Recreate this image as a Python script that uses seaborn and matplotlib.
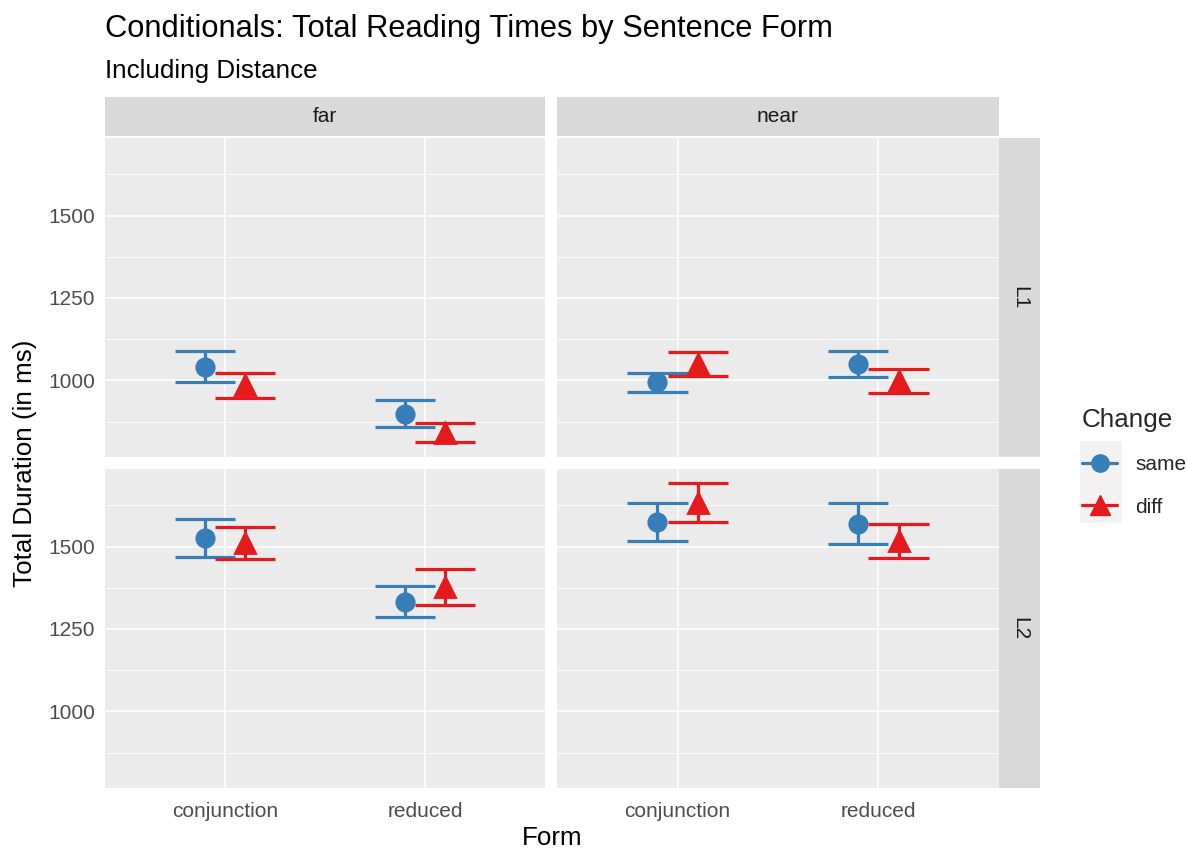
import matplotlib
matplotlib.use("Agg")
import matplotlib.pyplot as plt
from matplotlib.lines import Line2D
from matplotlib.patches import Rectangle
from matplotlib.ticker import MultipleLocator, AutoMinorLocator
import pandas as pd
import seaborn as sns

# categories
forms = ["conjunction", "reduced"]
distances = ["far", "near"]
levels = ["L1", "L2"]
changes = ["same", "diff"]

# cells in order: far/conjunction, far/reduced, near/conjunction, near/reduced
cell_distance = ["far", "far", "near", "near"]
cell_form = ["conjunction", "reduced", "conjunction", "reduced"]

# mean total duration and half-width of the error bar (ms)
l1_same_mean = [1041, 899, 994, 1049]
l1_same_err = [47, 41, 30, 39]
l1_diff_mean = [986, 842, 1049, 998]
l1_diff_err = [38, 30, 36, 37]
l2_same_mean = [1526, 1333, 1574, 1569]
l2_same_err = [57, 48, 58, 62]
l2_diff_mean = [1511, 1377, 1632, 1516]
l2_diff_err = [49, 54, 59, 52]

series = {
    ("L1", "same"): (l1_same_mean, l1_same_err),
    ("L1", "diff"): (l1_diff_mean, l1_diff_err),
    ("L2", "same"): (l2_same_mean, l2_same_err),
    ("L2", "diff"): (l2_diff_mean, l2_diff_err),
}
rows = []
for (lv, ch), (means, errs) in series.items():
    for d, f, m, e in zip(cell_distance, cell_form, means, errs):
        rows.append({"Level": lv, "Change": ch, "Distance": d, "Form": f,
                     "Duration": m, "lower": m - e, "upper": m + e})
df = pd.DataFrame(rows)

palette = {"same": "#377EB8", "diff": "#E41A1C"}

sns.set_theme(style="darkgrid", rc={
    "axes.facecolor": "#EBEBEB",
    "grid.color": "white",
    "axes.edgecolor": "none",
})
plt.rcParams["font.family"] = ["Liberation Sans", "DejaVu Sans"]

W, H = 1187, 851
fig = plt.figure(figsize=(W / 100, H / 100), dpi=100)

def fx(px):
    return px / W

def fy(px):
    return 1 - px / H

col_x = [(105, 545), (557, 999)]
row_y = [(138, 457), (469, 788)]

span = df["upper"].max() - df["lower"].min()
ylim = (df["lower"].min() - 0.05 * span, df["upper"].max() + 0.05 * span)

base = 18.7
small = 15

for r, lv in enumerate(levels):
    for c, dist in enumerate(distances):
        x0, x1 = col_x[c]
        y0, y1 = row_y[r]
        ax = fig.add_axes([fx(x0), fy(y1), fx(x1 - x0), (y1 - y0) / H])
        sub = df[(df["Level"] == lv) & (df["Distance"] == dist)]
        sns.pointplot(data=sub, x="Form", y="Duration", hue="Change",
                      order=forms, hue_order=changes, palette=palette,
                      markers=["o", "^"], linestyles=["none", "none"],
                      dodge=0.2, errorbar=None, legend=False, ax=ax,
                      markersize=12.5)
        # error bars at the dodged positions seaborn used
        for ln, ch in zip(ax.lines[:len(changes)], changes):
            ln.set_zorder(4)
            if ch == "diff":
                ln.set_markersize(15)
            part = sub[sub["Change"] == ch].set_index("Form").loc[forms]
            xs = ln.get_xdata()
            ax.vlines(xs, part["lower"], part["upper"], color=palette[ch],
                      lw=2.3, zorder=3)
            for y in ("lower", "upper"):
                ax.hlines(part[y], xs - 0.15, xs + 0.15, color=palette[ch],
                          lw=2.3, zorder=3)
        ax.set_xlim(-0.6, len(forms) - 0.4)
        ax.set_ylim(*ylim)
        ax.yaxis.set_major_locator(MultipleLocator(250))
        ax.yaxis.set_minor_locator(AutoMinorLocator(2))
        ax.grid(which="major", color="white", lw=1.1)
        ax.grid(which="minor", axis="y", color="white", lw=0.55)
        ax.set_axisbelow(True)
        ax.set_xlabel("")
        ax.set_ylabel("")
        ax.tick_params(axis="both", which="major", length=4, width=1.1,
                       color="#333333", labelcolor="#4D4D4D",
                       labelsize=small, pad=3)
        ax.tick_params(axis="x", which="major", pad=6)
        ax.tick_params(axis="both", which="minor", length=0)
        if c > 0:
            ax.tick_params(axis="y", length=0, labelleft=False)
        if r == 0:
            ax.tick_params(axis="x", length=0, labelbottom=False)
        for s in ax.spines.values():
            s.set_visible(False)

        if r == 0:
            sax = fig.add_axes([fx(x0), fy(136), fx(x1 - x0), 39 / H])
            sax.set_facecolor("#D9D9D9")
            sax.set_xticks([])
            sax.set_yticks([])
            sax.grid(False)
            for s in sax.spines.values():
                s.set_visible(False)
            sax.text(0.5, 0.5, dist, ha="center", va="center",
                     fontsize=small, color="#1A1A1A", transform=sax.transAxes)
        if c == len(distances) - 1:
            sax = fig.add_axes([fx(999), fy(y1), fx(41), (y1 - y0) / H])
            sax.set_facecolor("#D9D9D9")
            sax.set_xticks([])
            sax.set_yticks([])
            sax.grid(False)
            for s in sax.spines.values():
                s.set_visible(False)
            sax.text(0.5, 0.5, lv, ha="center", va="center", rotation=-90,
                     fontsize=small, color="#1A1A1A", transform=sax.transAxes)

fig.text(fx(105), fy(29), "Conditionals: Total Reading Times by Sentence Form",
         fontsize=22.2, ha="left", va="center", color="black")
fig.text(fx(105), fy(71), "Including Distance", fontsize=base,
         ha="left", va="center", color="black")
fig.text(fx(25), fy(463), "Total Duration (in ms)", fontsize=base,
         rotation=90, ha="center", va="center", color="black")
fig.text(fx(552), fy(838), "Form", fontsize=base, ha="center", va="center",
         color="black")

# legend
fig.patches.append(Rectangle((fx(1080), fy(523)), fx(42), 82 / H,
                             transform=fig.transFigure, facecolor="#F2F2F2",
                             edgecolor="none", zorder=0))
handles = [Line2D([0], [0], color=palette[ch], marker=m, ms=ms, lw=2.3)
           for ch, m, ms in zip(changes, ["o", "^"], [12.5, 15])]
leg = fig.legend(handles, changes, title="Change", loc="upper left",
                 bbox_to_anchor=(fx(1082), fy(408)), frameon=False,
                 borderpad=0, borderaxespad=0,
                 fontsize=small, title_fontsize=base, handlelength=1.7,
                 handletextpad=0.85, labelspacing=1.12, alignment="left")

fig.savefig("out.png", dpi=100)
